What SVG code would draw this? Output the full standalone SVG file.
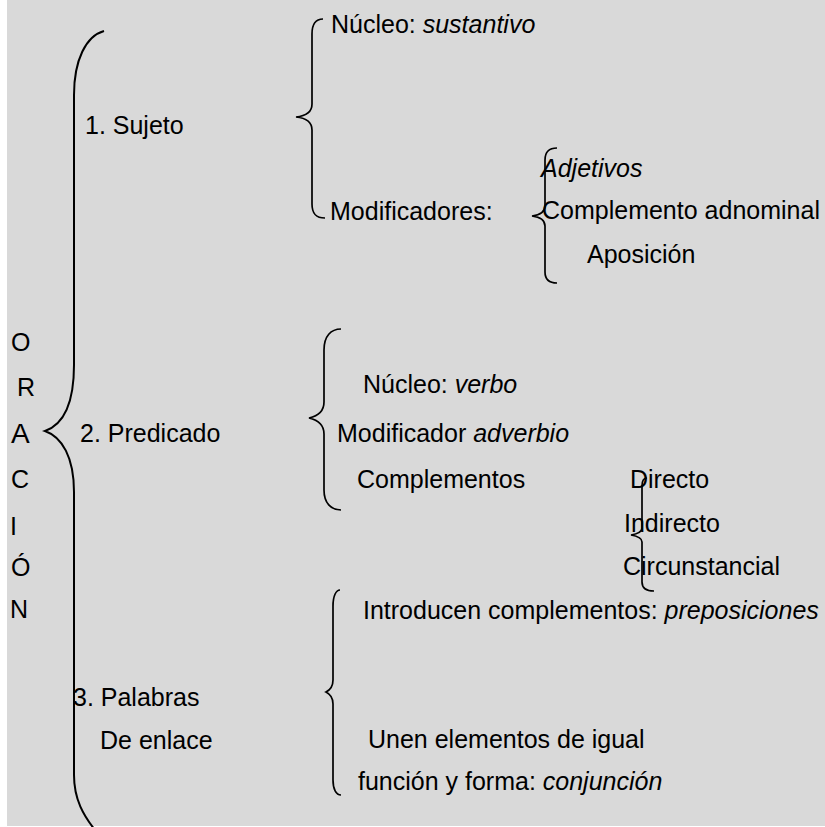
<svg xmlns="http://www.w3.org/2000/svg" width="825" height="827" viewBox="0 0 825 827">
<style>
text{font-family:"Liberation Sans",Arial,sans-serif;font-size:25px;fill:#000}
.i{font-style:italic}
.br{fill:none;stroke:#000;stroke-width:1.7}
</style>
<rect x="0" y="0" width="825" height="827" fill="#ffffff"/>
<rect x="7" y="0" width="818" height="826" fill="#d9d9d9"/>
<g id="connectors">
<path class="br" style="stroke-width:2" d="M104,31 C86,36 74,60 74,95 L74,365 C74,405 62,425 45,431 C62,437 74,457 74,492 L74,775 C74,800 84,816 95,830"/>
<path class="br" d="M323,19 C316,19 312,24 312,34 L312,104 C312,112 306,116 296,117 C306,118 312,122 312,130 L312,204 C312,214 316,218 325,218"/>
<path class="br" d="M557,148 C549,148 545,152 545,160 L545,206 C545,212 540,215 532,216 C540,217 545,220 545,226 L545,272 C545,279 549,283 557,283"/>
<path class="br" d="M341,329 C331,329 324,336 324,350 L324,402 C324,411 318,416 309,418 C318,420 324,425 324,434 L324,490 C324,503 331,510 341,510"/>
<path class="br" d="M647,478 C643,478 642,481 642,486 L642,528 C642,532 637,534 631,535 C637,536 642,538 642,542 L642,582 C642,588 646,591 654,591"/>
<path class="br" d="M340,590 C336,590 333,596 333,606 L333,680 C333,687 330,690 326,692 C330,694 333,697 333,704 L333,780 C333,789 336,795 341,795"/>
</g>
<g id="oracion">
<text x="11" y="351">O</text>
<text x="17" y="396">R</text>
<text x="11" y="443" style="font-size:28px">A</text>
<text x="11" y="488">C</text>
<text x="10" y="535">I</text>
<text x="11" y="576">Ó</text>
<text x="10" y="618">N</text>
</g>
<g id="sujeto"><text x="85" y="134">1. Sujeto</text></g>
<g id="predicado"><text x="80" y="442">2. Predicado</text></g>
<g id="palabras"><text x="73" y="706">3. Palabras</text><text x="100" y="749">De enlace</text></g>
<g id="nucleo-sust"><text x="331" y="33">Núcleo: <tspan class="i">sustantivo</tspan></text></g>
<g id="modificadores"><text x="330" y="220">Modificadores:</text></g>
<g id="adjetivos"><text class="i" x="541" y="177">Adjetivos</text></g>
<g id="comp-adnominal"><text x="542" y="219">Complemento adnominal</text></g>
<g id="aposicion"><text x="587" y="263">Aposición</text></g>
<g id="nucleo-verbo"><text x="363" y="393">Núcleo: <tspan class="i">verbo</tspan></text></g>
<g id="mod-adverbio"><text x="337" y="442">Modificador <tspan class="i">adverbio</tspan></text></g>
<g id="complementos"><text x="357" y="488">Complementos</text></g>
<g id="directo"><text x="630" y="488">Directo</text></g>
<g id="indirecto"><text x="624" y="532">Indirecto</text></g>
<g id="circunstancial"><text x="623" y="575">Circunstancial</text></g>
<g id="preposiciones"><text x="363" y="619">Introducen complementos: <tspan class="i">preposiciones</tspan></text></g>
<g id="conjuncion"><text x="368" y="748">Unen elementos de igual</text><text x="358" y="790">función y forma: <tspan class="i">conjunción</tspan></text></g>
</svg>
